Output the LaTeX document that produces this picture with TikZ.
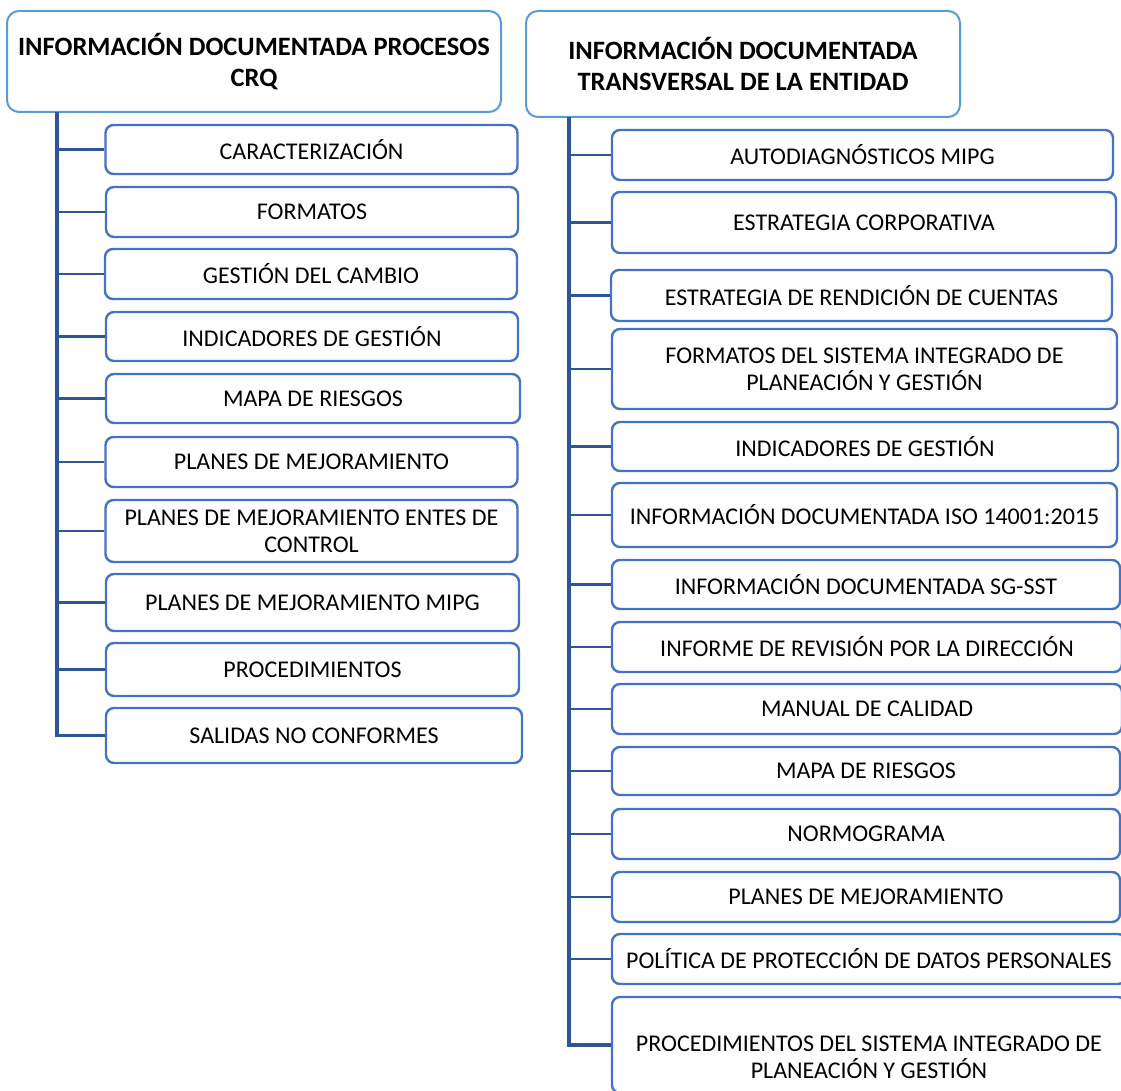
\documentclass[tikz,border=0pt]{standalone}
\usepackage{fontspec}
\setmainfont{Carlito}
\definecolor{headblue}{RGB}{91,155,213}
\definecolor{itemblue}{RGB}{68,114,196}
\definecolor{linkblue}{RGB}{47,85,151}
\begin{document}
\begin{tikzpicture}[
  x=1pt, y=-1pt,
  head/.style={draw=headblue, line width=2pt, rounded corners=12pt, align=center,
               inner sep=0pt, font=\fontsize{26.5}{31}\selectfont\bfseries},
  item/.style={draw=itemblue, line width=2.4pt, rounded corners=8pt, align=center,
               inner sep=0pt, font=\fontsize{24}{27}\selectfont,
               minimum width=412pt, minimum height=50pt},
  link/.style={draw=linkblue, line width=2.6pt},
  spine/.style={draw=linkblue, line width=3.4pt},
]
  \useasboundingbox (0,0) rectangle (1121,1091);
  \clip (0,0) rectangle (1121,1091);

  % left column: process documents
  \node[head, minimum width=494pt, minimum height=101pt] (crq) at (254,61.5)
    {INFORMACIÓN DOCUMENTADA PROCESOS\\CRQ};
  \node[item, minimum height=49pt] (car) at (311.5,149.5) {CARACTERIZACIÓN};
  \node[item] (fmt) at (312,212) {FORMATOS};
  \node[item] (gdc) at (311,274) {GESTIÓN DEL CAMBIO};
  \node[item, minimum height=49pt] (ind) at (312,336.5) {INDICADORES DE GESTIÓN};
  \node[item, minimum width=414pt, minimum height=49pt] (map) at (313,398.5) {MAPA DE RIESGOS};
  \node[item] (pme) at (311.5,462) {PLANES DE MEJORAMIENTO};
  \node[item, minimum height=62pt] (pec) at (311.5,531)
    {PLANES DE MEJORAMIENTO ENTES DE\\CONTROL};
  \node[item, minimum width=413pt, minimum height=57pt] (pmm) at (312.5,602.5)
    {PLANES DE MEJORAMIENTO MIPG};
  \node[item, minimum width=413pt, minimum height=53pt] (prc) at (312.5,669.5) {PROCEDIMIENTOS};
  \node[item, minimum width=416pt, minimum height=55pt] (snc) at (314,735.5) {SALIDAS NO CONFORMES};

  \coordinate (crqs) at (57,112);
  \draw[spine] (crqs) |- (snc.west);
  \foreach \n in {car,fmt,gdc,ind,map,pme,pec,pmm,prc}
    \draw[link] (crqs |- \n.west) -- (\n.west);

  % right column: entity-wide documents
  \node[head, minimum width=434pt, minimum height=106pt] (trv) at (743,64)
    {INFORMACIÓN DOCUMENTADA\\TRANSVERSAL DE LA ENTIDAD};
  \node[item, minimum width=501pt] (aut) at (862.5,155) {AUTODIAGNÓSTICOS MIPG};
  \node[item, minimum width=504pt, minimum height=61pt] (est) at (864,222.5) {ESTRATEGIA CORPORATIVA};
  \node[item, minimum width=501pt, minimum height=51pt] (erc) at (861.5,295.5)
    {ESTRATEGIA DE RENDICIÓN DE CUENTAS};
  \node[item, minimum width=505pt, minimum height=80pt] (fsi) at (864.5,369)
    {FORMATOS DEL SISTEMA INTEGRADO DE\\PLANEACIÓN Y GESTIÓN};
  \node[item, minimum width=506pt, minimum height=49pt] (ing) at (865,446.5) {INDICADORES DE GESTIÓN};
  \node[item, minimum width=505pt, minimum height=64pt] (iso) at (864.5,515)
    {INFORMACIÓN DOCUMENTADA ISO 14001:2015};
  \node[item, minimum width=508pt, minimum height=49pt] (sst) at (866,584.5)
    {INFORMACIÓN DOCUMENTADA SG-SST};
  \node[item, minimum width=510pt] (ird) at (867,647) {INFORME DE REVISIÓN POR LA DIRECCIÓN};
  \node[item, minimum width=510pt] (mca) at (867,709) {MANUAL DE CALIDAD};
  \node[item, minimum width=508pt, minimum height=48pt] (mrg) at (866,771) {MAPA DE RIESGOS};
  \node[item, minimum width=508pt] (nor) at (866,834) {NORMOGRAMA};
  \node[item, minimum width=508pt] (plm) at (866,897) {PLANES DE MEJORAMIENTO};
  \node[item, minimum width=514pt] (pdp) at (869,959)
    {POLÍTICA DE PROTECCIÓN DE DATOS PERSONALES};
  \node[item, minimum width=514pt, minimum height=96pt] (psi) at (869,1045) {};
  \node[font=\fontsize{24}{27}\selectfont, align=center, inner sep=0pt] (psitxt)
    at ([yshift=-12.5pt]psi.center)
    {PROCEDIMIENTOS DEL SISTEMA INTEGRADO DE\\PLANEACIÓN Y GESTIÓN};

  \coordinate (trvs) at (569,117);
  \draw[spine] (trvs) |- (psi.west);
  \foreach \n in {aut,est,erc,fsi,ing,iso,sst,ird,mca,mrg,nor,plm,pdp}
    \draw[link] (trvs |- \n.west) -- (\n.west);
\end{tikzpicture}
\end{document}
